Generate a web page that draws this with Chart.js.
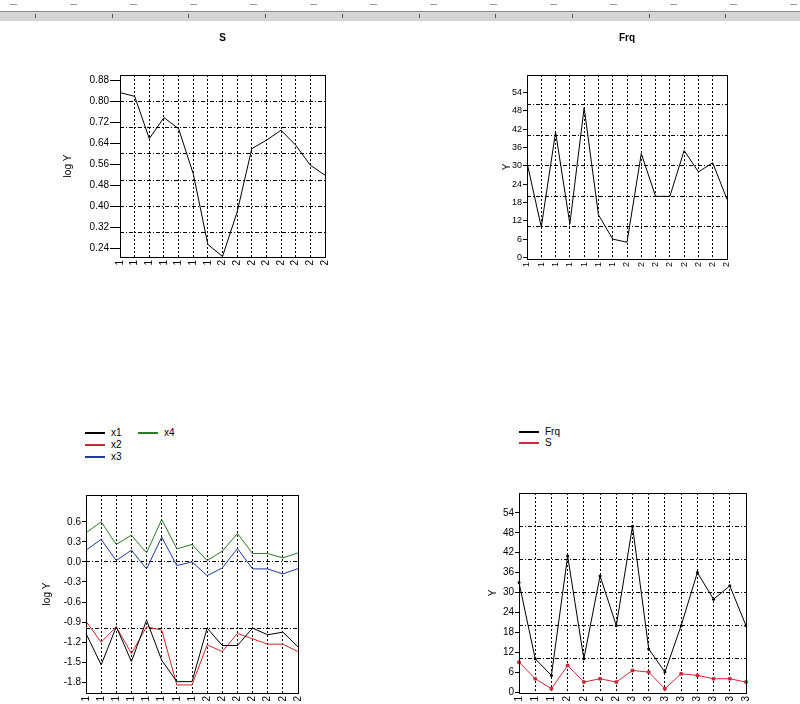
<!DOCTYPE html>
<html>
<head>
<meta charset="utf-8">
<script src="https://cdn.jsdelivr.net/npm/chart.js@4.4.1/dist/chart.umd.min.js"></script>
<style>
  html, body { margin: 0; padding: 0; width: 800px; height: 704px; overflow: hidden; background: #fff; }
  body { position: relative; font-family: 'Liberation Sans', Arial, sans-serif; }
  .box { position: absolute; }
  .ruler {
    position: absolute; left: 0; top: 11px; width: 800px; height: 9px;
    background: #d5d5d5; border-top: 1px solid #8c8c8c;
  }
  .ruler .tick { position: absolute; top: 2px; width: 1px; height: 4px; background: #555; }
  .ruler .mark { position: absolute; top: -8px; width: 7px; height: 1px; background: #999; }
  .legend {
    position: absolute; display: grid; grid-auto-flow: column;
    font-size: 10px; color: #000; line-height: 12px;
  }
  .legend .item { display: flex; align-items: center; white-space: nowrap; }
  .legend i { display: inline-block; width: 20px; height: 2px; margin-right: 6px; }
</style>
</head>
<body>
<div class="ruler" id="ruler"></div>

<div class="box" style="left:40px;top:32px;width:289px;height:245px"><canvas id="chartS"></canvas></div>
<div class="box" style="left:487px;top:32px;width:244px;height:247px"><canvas id="chartFrq"></canvas></div>
<div class="box" style="left:26px;top:491px;width:276px;height:213px"><canvas id="chartX"></canvas></div>
<div class="box" style="left:479px;top:489px;width:271px;height:215px"><canvas id="chartFS"></canvas></div>

<div class="legend" id="legendX" style="left:85px;top:427px;grid-template-rows:repeat(3,12px);grid-template-columns:53px auto"></div>
<div class="legend" id="legendFS" style="left:519px;top:426px;grid-template-rows:repeat(2,11px)"></div>

<script>
// categories
const labelsTop = ['1', '1', '1', '1', '1', '1', '1', '2', '2', '2', '2', '2', '2', '2', '2'];
const labelsX = ['1', '1', '1', '1', '1', '1', '1', '1', '2', '2', '2', '2', '2', '2', '2'];
const labelsFS = ['1', '1', '1', '2', '2', '2', '2', '3', '3', '3', '3', '3', '3', '3', '3'];

// series values
const logS = [0.833, 0.819, 0.658, 0.738, 0.696, 0.525, 0.256, 0.21, 0.379, 0.62, 0.652, 0.69, 0.633, 0.557, 0.519];
const frqTop = [31, 10, 41, 11, 49, 14, 6, 5, 34, 20, 20, 35, 28, 31, 19];
const x1 = [-1.07, -1.54, -0.97, -1.49, -0.87, -1.47, -1.79, -1.79, -0.99, -1.25, -1.25, -0.99, -1.09, -1.05, -1.27];
const x2 = [-0.89, -1.2, -0.97, -1.37, -0.97, -1.02, -1.84, -1.84, -1.24, -1.34, -1.07, -1.15, -1.23, -1.23, -1.34];
const x3 = [0.175, 0.335, 0.02, 0.175, -0.105, 0.37, -0.055, 0.0, -0.205, -0.09, 0.2, -0.105, -0.105, -0.18, -0.1];
const x4 = [0.435, 0.6, 0.26, 0.4, 0.135, 0.635, 0.195, 0.26, 0.02, 0.16, 0.425, 0.125, 0.125, 0.06, 0.135];
const frqBottom = [33, 10, 5, 41, 10, 35, 20, 50, 13, 6, 20, 36, 28, 32, 20];
const sBottom = [9, 4, 1, 8, 3, 4, 3, 6.5, 6, 1, 5.5, 5, 4, 4, 3];

// tick labels and grid lines
const ticksLogS = [0.24, 0.32, 0.40, 0.48, 0.56, 0.64, 0.72, 0.80, 0.88];
const gridLogS = [0.3, 0.4, 0.5, 0.6, 0.7, 0.8];
const ticksFrq = [0, 6, 12, 18, 24, 30, 36, 42, 48, 54];
const gridFrq = [10, 20, 30, 40, 50];
const ticksLogX = [-1.8, -1.5, -1.2, -0.9, -0.6, -0.3, 0.0, 0.3, 0.6];
const gridLogX = [-1, 0];

const FONT = { family: "'Liberation Sans', Arial, sans-serif", size: 10 };

// ruler strip at the top
const ruler = document.getElementById('ruler');
for (let x = 35; x < 800; x += 76.7) {
    const t = document.createElement('div');
    t.className = 'tick';
    t.style.left = Math.round(x) + 'px';
    ruler.appendChild(t);
}
for (let x = 10; x < 800; x += 60) {
    const m = document.createElement('div');
    m.className = 'mark';
    m.style.left = Math.round(x) + 'px';
    ruler.appendChild(m);
}

// black frame around the plot area
const frame = {
    id: 'frame',
    afterDatasetsDraw(chart) {
        const { ctx, chartArea: a } = chart;
        ctx.save();
        ctx.strokeStyle = '#000';
        ctx.lineWidth = 1;
        ctx.strokeRect(Math.round(a.left) + 0.5, Math.round(a.top) + 0.5,
            Math.round(a.right - a.left), Math.round(a.bottom - a.top));
        ctx.restore();
    }
};

function line(label, data, color, radius) {
    return {
        label, data,
        borderColor: color, backgroundColor: color,
        borderWidth: 1, tension: 0,
        pointRadius: radius || 0, pointHoverRadius: 0,
        pointBorderWidth: 0
    };
}

function makeChart(id, o) {
    const tickFont = { ...FONT, size: o.tickSize || 10 };
    return new Chart(document.getElementById(id), {
        type: 'line',
        data: { labels: o.labels, datasets: o.datasets },
        plugins: [frame],
        options: {
            responsive: true,
            maintainAspectRatio: false,
            animation: false,
            events: [],
            layout: { padding: { left: 0, right: 4, top: o.top || 0, bottom: 0 } },
            plugins: {
                legend: { display: false },
                tooltip: { enabled: false },
                title: {
                    display: !!o.title,
                    text: o.title || '',
                    fullSize: false,
                    color: '#000',
                    font: { ...FONT, weight: 'bold' },
                    padding: { top: 0, bottom: 31 }
                }
            },
            scales: {
                x: {
                    offset: false,
                    grid: { color: '#000', lineWidth: 1, drawTicks: false },
                    border: { color: '#000', dash: [2, 2] },
                    ticks: { color: '#000', font: tickFont, minRotation: 90, maxRotation: 90, autoSkip: false, padding: 3 },
                    afterFit(s) { s.height = o.xHeight; s.paddingLeft = 0; s.paddingRight = 0; }
                },
                y: {
                    min: o.min, max: o.max,
                    afterBuildTicks(s) { s.ticks = o.ticks.map(v => ({ value: v })); },
                    grid: { drawOnChartArea: false, drawTicks: true, tickLength: o.tickLen || 4, color: '#000' },
                    border: { color: '#000' },
                    ticks: { color: '#000', font: tickFont, padding: 1, callback: v => v.toFixed(o.decimals) },
                    title: { display: true, text: o.yTitle, color: '#000', font: FONT, padding: { top: o.titlePad, bottom: 0 } },
                    afterFit(s) { s.width = o.yWidth; s.paddingTop = 0; s.paddingBottom = 0; }
                },
                g: {
                    position: 'right',
                    min: o.min, max: o.max,
                    afterBuildTicks(s) { s.ticks = o.grid.map(v => ({ value: v })); },
                    grid: { color: '#000', lineWidth: 1, drawTicks: false },
                    border: { display: false, dash: [4, 2, 1, 2] },
                    ticks: { display: false },
                    afterFit(s) { s.width = 0; s.paddingTop = 0; s.paddingBottom = 0; }
                }
            }
        }
    });
}

// HTML legend built from the chart's datasets
function buildLegend(chart, elId) {
    const el = document.getElementById(elId);
    chart.data.datasets.forEach(ds => {
        const item = document.createElement('span');
        item.className = 'item';
        const sw = document.createElement('i');
        sw.style.background = ds.borderColor;
        item.appendChild(sw);
        item.appendChild(document.createTextNode(ds.label));
        el.appendChild(item);
    });
}

makeChart('chartS', {
    title: 'S', labels: labelsTop,
    datasets: [line('S', logS, '#000')],
    min: 0.208, max: 0.9, ticks: ticksLogS, grid: gridLogS, decimals: 2,
    yTitle: 'log Y', yWidth: 80, titlePad: 22, xHeight: 20, tickLen: 10
});

makeChart('chartFrq', {
    title: 'Frq', labels: labelsTop,
    datasets: [line('Frq', frqTop, '#000')],
    min: -0.5, max: 59.7, ticks: ticksFrq, grid: gridFrq, decimals: 0,
    yTitle: 'Y', yWidth: 40, titlePad: 14, xHeight: 20, tickSize: 9
});

const chartX = makeChart('chartX', {
    labels: labelsX, top: 4,
    datasets: [
        line('x1', x1, '#000'),
        line('x2', x2, '#cc2a2a'),
        line('x3', x3, '#1d3a9e'),
        line('x4', x4, '#2a7d2a')
    ],
    min: -1.96, max: 1.0, ticks: ticksLogX, grid: gridLogX, decimals: 1,
    yTitle: 'log Y', yWidth: 60, titlePad: 15, xHeight: 11
});
buildLegend(chartX, 'legendX');

const chartFS = makeChart('chartFS', {
    labels: labelsFS, top: 4,
    datasets: [
        line('Frq', frqBottom, '#000', 1.5),
        line('S', sBottom, '#cc2a3a', 2)
    ],
    min: -0.3, max: 60, ticks: ticksFrq, grid: gridFrq, decimals: 0,
    yTitle: 'Y', yWidth: 40, titlePad: 8, xHeight: 11
});
buildLegend(chartFS, 'legendFS');
</script>
</body>
</html>
